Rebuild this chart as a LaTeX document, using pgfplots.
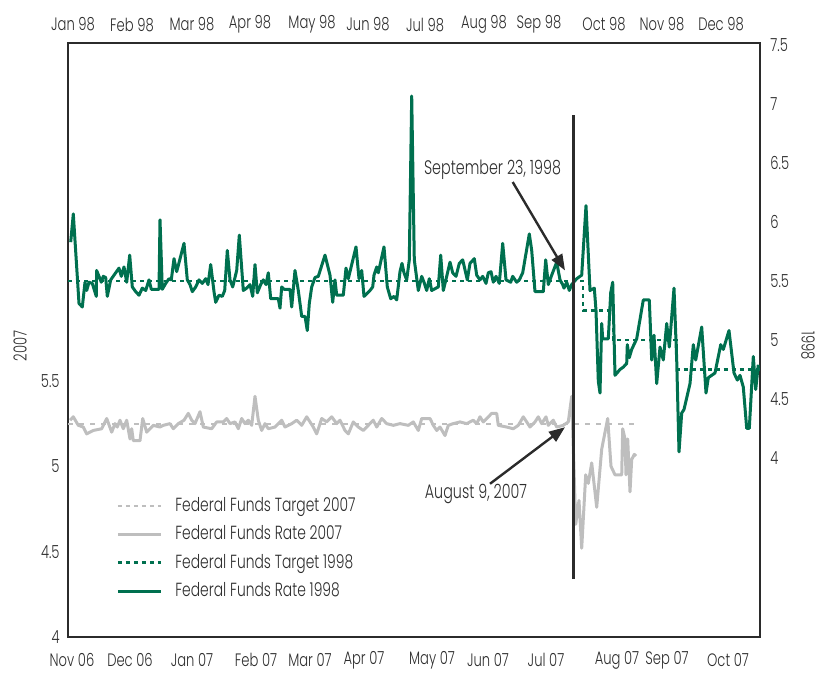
\documentclass[border=0pt]{standalone}
\usepackage{fontspec}
\setmainfont{Poppins Light}[FakeStretch=0.73]
\usepackage{pgfplots}
\pgfplotsset{compat=1.18}
\usetikzlibrary{arrows.meta}
\definecolor{fedgreen}{HTML}{00704F}
\definecolor{fedgray}{HTML}{BEBEBE}
\definecolor{txt}{HTML}{2E2E2E}
\definecolor{framec}{HTML}{2B2B2B}

\pgfplotsset{
  fedbase/.style={
    scale only axis, width=346pt, height=297pt,
    at={(34pt,18pt)}, anchor=south west,
    xmin=0, xmax=692, clip=false,
    major tick length=0pt,
    axis line style={framec, line width=1pt},
    tick label style={font=\fontsize{9}{10}\selectfont, text=txt, inner sep=0pt},
  },
}

\begin{document}
\begin{tikzpicture}
\path[use as bounding box] (0,0) rectangle (412.5pt,336.5pt);

% 2007: left axis, bottom dates
\begin{axis}[fedbase,
  ymin=4, ymax=7.48,
  ytick={4,4.5,5,5.5}, yticklabels={4,4.5,5,5.5},
  xtick={4,62,124,188,242,296,364,420,478,549,599,660},
  xticklabels={Nov 06,Dec 06,Jan 07,Feb 07,Mar 07,Apr 07,May 07,Jun 07,Jul 07,Aug 07,Sep 07,Oct 07},
  xticklabel style={anchor=center, yshift=-11.5pt},
  yticklabel style={anchor=east, xshift=-4pt},
]
% target 2007
\addplot[fedgray, line width=1pt, dash pattern=on 2.5pt off 3pt] coordinates {(0,5.25) (567,5.25)};
% effective rate 2007
\addplot[fedgray, line width=1.5pt, line join=round] coordinates {
(2,5.27) (5.3,5.29) (10.3,5.24) (15.3,5.23) (18.7,5.19) (25.3,5.21) (33.7,5.22) (38.7,5.28)
(43.7,5.20) (47,5.25) (49.3,5.23) (52,5.27) (55.3,5.22) (58.7,5.27) (62,5.16) (63.7,5.22)
(65.3,5.15) (72,5.15) (74.7,5.28) (78.7,5.20) (85.3,5.24) (92,5.23) (95.3,5.24) (102,5.25)
(105.3,5.22) (110.3,5.25) (116,5.27) (120.3,5.31) (123.7,5.27) (127,5.25) (132,5.32) (135.3,5.23)
(143.7,5.22) (148.7,5.26) (155.3,5.26) (158.7,5.28) (162,5.25) (167,5.26) (170.3,5.22) (173.7,5.28)
(177,5.25) (180.3,5.27) (183.7,5.24) (187,5.41) (190.3,5.27) (193.7,5.21) (197,5.25) (200.3,5.22)
(207,5.23) (213.7,5.27) (217,5.23) (223.7,5.25) (228.7,5.27) (233.7,5.24) (238.7,5.29) (245.3,5.23)
(248.7,5.19) (253.7,5.28) (258.7,5.26) (263.7,5.29) (268.7,5.25) (272,5.27) (277,5.21) (280.3,5.19)
(285.3,5.26) (290.3,5.23) (295.3,5.21) (300.3,5.24) (305.3,5.27) (308.7,5.23) (313.7,5.28) (318.7,5.25)
(325.3,5.24) (332,5.25) (340.3,5.24) (345.3,5.26) (350.3,5.21) (353.7,5.28) (362,5.28) (365.3,5.24)
(368.7,5.21) (372,5.23) (377,5.18) (380.3,5.24) (385.3,5.25) (392,5.26) (398.7,5.25) (405.3,5.27)
(408.7,5.25) (412,5.29) (415.3,5.26) (418.7,5.28) (423.7,5.31) (428.7,5.31) (430.3,5.24) (438.7,5.23)
(445.3,5.22) (450.3,5.24) (455.3,5.29) (458.7,5.26) (462,5.23) (467,5.26) (470.3,5.29) (473.7,5.25)
(478,5.29) (480.3,5.24) (485.3,5.27) (488.7,5.23) (495.3,5.24) (500.3,5.26) (503.7,5.41) (507.7,4.66)
(511,4.80) (513.7,4.52) (517.7,4.95) (520.3,4.90) (523.7,5.02) (528.7,4.76) (533.7,5.10) (539.7,5.28)
(543,5.00) (547,4.95) (553.7,4.95) (554.7,5.22) (557,5.16) (558,4.95) (559.7,5.16) (562,4.85)
(563.7,5.04) (566.3,5.07) (568,5.06)};
\node[xshift=-24pt, rotate=90, font=\fontsize{9}{10}\selectfont, text=txt] at (rel axis cs:0,0.49) {2007};
\end{axis}

% 1998: right axis, top dates
\begin{axis}[fedbase,
  ymin=2.48, ymax=7.52,
  axis x line*=top, axis y line*=right,
  ytick={4,4.5,5,5.5,6,6.5,7,7.5}, yticklabels={4,4.5,5,5.5,6,6.5,7,7.5},
  xtick={5,64,124,182,244,300,357,416,471,536,594,653},
  xticklabels={Jan 98,Feb 98,Mar 98,Apr 98,May 98,Jun 98,Jul 98,Aug 98,Sep 98,Oct 98,Nov 98,Dec 98},
  xticklabel style={anchor=center, yshift=9.2pt},
  yticklabel style={anchor=west, xshift=5pt},
  legend cell align=left,
  legend style={at={(rel axis cs:0.0607,0.2424)}, anchor=north west, draw=none, fill=none,
    font=\fontsize{9.5}{11}\selectfont, text=txt, row sep=5.7pt, column sep=6.5pt,
    nodes={inner sep=0pt, text height=7pt, text depth=1.5pt}},
  legend image code/.code={\draw[#1] (0pt,0pt) -- (21.5pt,0pt);},
]
\addlegendimage{fedgray, line width=1.3pt, dash pattern=on 2pt off 2pt}
\addlegendentry{Federal Funds Target 2007}
\addlegendimage{fedgray, line width=1.5pt}
\addlegendentry{Federal Funds Rate 2007}
% target 1998
\addplot[fedgreen, line width=1.3pt, dash pattern=on 2pt off 2pt, const plot] coordinates {
(0,5.5) (515,5.25) (545,5.0) (609,4.75) (692,4.75)};
\addlegendentry{Federal Funds Target 1998}
% effective rate 1998
\addplot[fedgreen, line width=1.5pt, line join=round] coordinates {
(2.7,5.83) (5.3,6.07) (11,5.31) (14.3,5.28) (17,5.49) (18.7,5.42) (21,5.49) (24.3,5.48)
(28.3,5.37) (28.6,5.59) (31,5.54) (33.3,5.49) (35.3,5.54) (37.7,5.53) (39.3,5.37) (42.7,5.51)
(46,5.55) (51,5.61) (53.3,5.54) (56,5.62) (58.7,5.49) (61.7,5.72) (64.3,5.45) (67.7,5.41)
(71,5.38) (74.3,5.44) (77.7,5.42) (81,5.51) (83.3,5.43) (91,5.43) (92,6.02) (94.3,5.43)
(97.7,5.48) (101,5.52) (103.3,5.51) (106,5.69) (108.7,5.58) (116,5.82) (119.3,5.51) (122,5.47)
(124.3,5.41) (127.7,5.45) (131,5.51) (134.3,5.48) (137.7,5.52) (140,5.47) (142.7,5.64) (146,5.41)
(147.7,5.32) (151,5.38) (154.3,5.37) (156.7,5.42) (159.3,5.76) (162,5.51) (164.7,5.45) (168.7,5.59)
(171.3,5.89) (175.3,5.42) (178.7,5.44) (182,5.47) (184.7,5.37) (187,5.64) (189.3,5.40) (192.7,5.47)
(195.3,5.51) (198,5.47) (200.3,5.57) (202.7,5.35) (210.3,5.35) (212,5.27) (213.7,5.45) (216,5.43)
(222,5.43) (223.7,5.28) (227,5.59) (230.3,5.42) (233.7,5.20) (237,5.20) (239.3,5.08) (241.3,5.31)
(243.7,5.45) (247,5.53) (250.3,5.54) (257,5.72) (262,5.55) (264.7,5.32) (267,5.51) (268.7,5.38)
(275.3,5.38) (278,5.61) (280.3,5.52) (288,5.79) (291,5.52) (293.7,5.59) (296,5.37) (302,5.42)
(304.7,5.45) (306,5.55) (308.7,5.62) (310.3,5.57) (316,5.79) (319.3,5.45) (322.7,5.35) (326,5.37)
(328.7,5.34) (332,5.58) (334,5.65) (336,5.57) (338.7,5.51) (341.3,5.68) (343.7,7.07) (346.3,5.68)
(350.3,5.42) (353.7,5.54) (356,5.49) (358.7,5.42) (361.3,5.52) (363.7,5.42) (370.3,5.45) (372.7,5.72)
(375.3,5.42) (378.7,5.54) (382,5.66) (384.7,5.57) (388,5.54) (391.3,5.65) (394.7,5.68) (399.3,5.51)
(402,5.65) (406.3,5.69) (408.7,5.55) (412,5.51) (414.7,5.54) (418,5.48) (420.3,5.57) (423,5.58)
(425.3,5.49) (428,5.54) (431.3,5.48) (434.7,5.82) (438,5.51) (442.7,5.49) (444.7,5.54) (448.7,5.49)
(451.3,5.51) (454.7,5.57) (461.3,5.90) (463.7,5.76) (467,5.41) (475.3,5.41) (477.7,5.68) (480.3,5.47)
(483.7,5.55) (488.7,5.66) (492,5.51) (494.7,5.47) (496,5.44) (498.7,5.49) (501.3,5.42) (503.7,5.47)
(508.7,5.52) (513.7,5.55) (518,6.14) (522,5.42) (526.3,5.44) (528,5.25) (530.3,4.65) (532,4.55)
(533.7,5.14) (534.7,5.01) (540.3,5.01) (542.7,5.40) (544.7,5.49) (547,4.70) (552,4.75) (555.3,4.77)
(558.7,4.80) (559.3,4.96) (561.3,4.85) (563.7,4.92) (568.7,5.01) (575.3,5.34) (581.3,5.34) (583.7,4.83)
(586,5.04) (588.7,4.63) (592,4.94) (595.3,4.83) (598.7,5.14) (601.3,4.94) (606,5.44) (608.7,4.83)
(611,4.05) (613.7,4.38) (616,4.41) (622,4.63) (625.3,4.96) (627.7,4.83) (633.7,5.11) (638,4.55)
(640.3,4.68) (647,4.72) (652.7,4.96) (655.3,4.92) (661,5.08) (666,4.72) (669.3,4.66) (672,4.70)
(675.3,4.60) (678.7,4.25) (681.3,4.25) (685.3,4.86) (687.7,4.58) (690.3,4.79)};
\addlegendentry{Federal Funds Rate 1998}
% event line
\addplot[framec, line width=1.5pt, forget plot] coordinates {(505,2.97) (505,6.91)};
\draw[framec, line width=1.2pt, -{Triangle[length=8pt,width=6pt]}] (axis cs:444.7,6.34) -- (axis cs:497,5.59);
\draw[framec, line width=1.2pt, -{Triangle[length=8pt,width=6pt]}] (axis cs:422,3.78) -- (axis cs:497,4.26);
\node[font=\fontsize{9.8}{11}\selectfont, text=txt] at (axis cs:424.5,6.44) {September 23, 1998};
\node[font=\fontsize{9.8}{11}\selectfont, text=txt] at (axis cs:408,3.695) {August 9, 2007};
\node[xshift=24pt, rotate=-90, font=\fontsize{9}{10}\selectfont, text=txt] at (rel axis cs:1,0.49) {1998};
\end{axis}
\end{tikzpicture}
\end{document}
